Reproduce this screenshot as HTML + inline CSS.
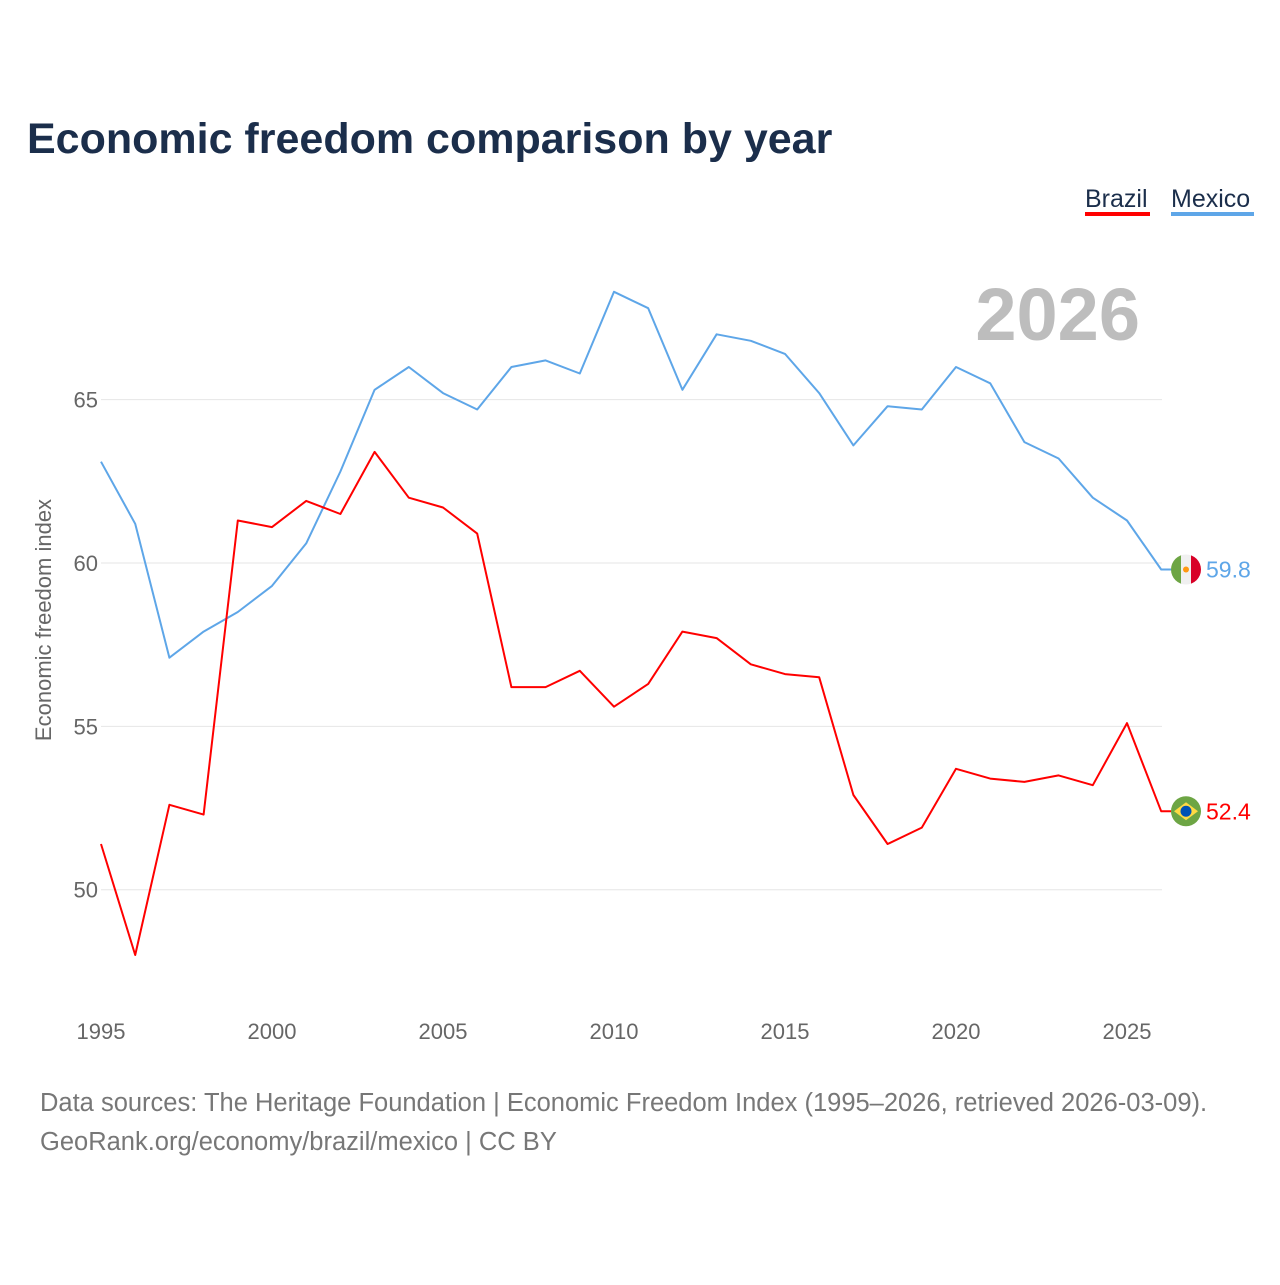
<!DOCTYPE html>
<html><head><meta charset="utf-8"><style>
html,body{margin:0;padding:0;background:#fff;}
body{width:1280px;height:1280px;position:relative;font-family:"Liberation Sans",sans-serif;overflow:hidden;}
svg text{font-family:"Liberation Sans",sans-serif;}
</style></head><body>
<svg id="chart" width="1280" height="1280">
<text x="27" y="153" font-size="43" font-weight="bold" fill="#1b2e4b">Economic freedom comparison by year</text>
<g>
<text x="1085" y="207" font-size="25" fill="#1b2e4b">Brazil</text>
<rect x="1085" y="212" width="65" height="4" fill="#ff0000"/>
<text x="1171" y="207" font-size="25" fill="#1b2e4b">Mexico</text>
<rect x="1171" y="212" width="83" height="4" fill="#5ea6e8"/>
</g>
<text x="1140" y="340" font-size="74" font-weight="bold" fill="#bdbdbd" text-anchor="end">2026</text>
<text transform="translate(51,620) rotate(-90)" font-size="22" fill="#666" text-anchor="middle">Economic freedom index</text>
<g id="grid"></g><g id="yticks"></g><g id="xticks"></g><g id="lines"></g><g id="ends"></g>
<text x="40" y="1111" font-size="25.5" fill="#777">Data sources: The Heritage Foundation | Economic Freedom Index (1995–2026, retrieved 2026-03-09).</text>
<text x="40" y="1150" font-size="25.5" fill="#777">GeoRank.org/economy/brazil/mexico | CC BY</text>
</svg>
<script>
const years=[1995,1996,1997,1998,1999,2000,2001,2002,2003,2004,2005,2006,2007,2008,2009,2010,2011,2012,2013,2014,2015,2016,2017,2018,2019,2020,2021,2022,2023,2024,2025,2026];
const mexico=[63.1,61.2,57.1,57.9,58.5,59.3,60.6,62.8,65.3,66.0,65.2,64.7,66.0,66.2,65.8,68.3,67.8,65.3,67.0,66.8,66.4,65.2,63.6,64.8,64.7,66.0,65.5,63.7,63.2,62.0,61.3,59.8];
const brazil=[51.4,48.0,52.6,52.3,61.3,61.1,61.9,61.5,63.4,62.0,61.7,60.9,56.2,56.2,56.7,55.6,56.3,57.9,57.7,56.9,56.6,56.5,52.9,51.4,51.9,53.7,53.4,53.3,53.5,53.2,55.1,52.4];
const yTicks=[50,55,60,65];
const xTicks=[1995,2000,2005,2010,2015,2020,2025];
const NS="http://www.w3.org/2000/svg";
const X=y=>101+(y-1995)*34.2;
const Y=v=>563-(v-60)*32.67;
function mk(tag,attrs,parent,txt){const e=document.createElementNS(NS,tag);for(const k in attrs)e.setAttribute(k,attrs[k]);if(txt!==undefined)e.textContent=txt;document.getElementById(parent).appendChild(e);return e;}
yTicks.forEach(v=>{
 const l=mk('line',{x1:101,x2:1162,y1:Y(v),y2:Y(v),stroke:'#e6e6e6','stroke-width':1},'grid');
 
 
 const t=mk('text',{x:98,y:Y(v)+8,'font-size':22,fill:'#666','text-anchor':'end'},'yticks',String(v));
 
 
});
xTicks.forEach(v=>{
 const t=mk('text',{x:X(v),y:1039,'font-size':22,fill:'#666','text-anchor':'middle'},'xticks',String(v));
 
 
});
function series(vals,color,name){
 const d=vals.map((v,i)=>(i?'L':'M')+X(years[i]).toFixed(1)+','+Y(v).toFixed(1)).join(' ')+' h10';
 const p=mk('path',{d:d,fill:'none',stroke:color,'stroke-width':2,'stroke-linejoin':'round'},'lines');
 
 
 const last=vals[vals.length-1],y=Y(last);
 const t=mk('text',{x:1206,y:y+8,'font-size':23,fill:color},'ends',last.toFixed(1));
 
 
 return y;
}
const my=series(mexico,'#5ea6e8','mexico');
const by=series(brazil,'#ff0000','brazil');
const g1=mk('g',{},'ends');


const cp=mk('clipPath',{id:'cm'},'ends');mk('circle',{cx:1186,cy:my,r:15},'ends');
cp.appendChild(document.getElementById('ends').lastChild);
[['#6da544',1171],['#f0f0f0',1181],['#d80027',1191]].forEach(([c,x])=>{const r=mk('rect',{x:x,y:my-15,width:10.5,height:30,fill:c,'clip-path':'url(#cm)'},'ends');g1.appendChild(r);});
const e1=mk('circle',{cx:1186,cy:my,r:3,fill:'#ff9811'},'ends');g1.appendChild(e1);
const g2=mk('g',{},'ends');


g2.appendChild(mk('circle',{cx:1186,cy:by,r:15,fill:'#6da544'},'ends'));
g2.appendChild(mk('polygon',{points:`1174,${by} 1186,${by-9} 1198,${by} 1186,${by+9}`,fill:'#ffda44'},'ends'));
g2.appendChild(mk('circle',{cx:1186,cy:by,r:5.5,fill:'#0052b4'},'ends'));
</script>
</body></html>
